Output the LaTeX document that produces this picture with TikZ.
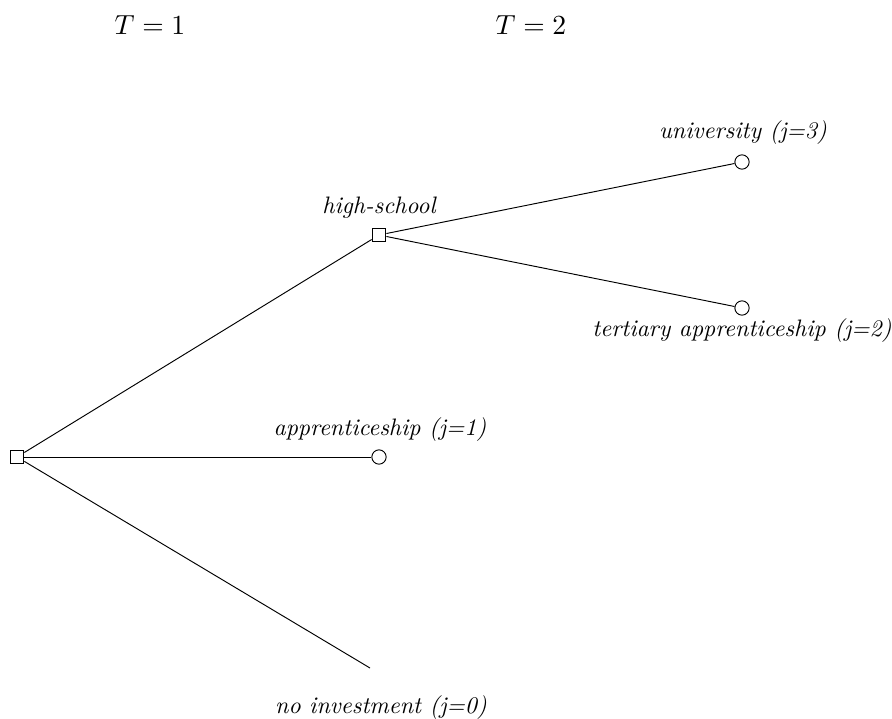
\documentclass[tikz,border=0pt]{standalone}
\begin{document}
\begin{tikzpicture}[x=0.42pt,y=-0.42pt,
  sq/.style={draw,rectangle,minimum size=5.8pt,inner sep=0pt,fill=white},
  circ/.style={draw,circle,minimum size=6pt,inner sep=0pt,fill=white},
  lab/.style={font=\itshape},
  tlab/.style={scale=1.16}]
\useasboundingbox (0,0) rectangle (892,719);
\node[sq] (root) at (17,457) {};
\node[sq] (hs) at (379,235) {};
\node[circ] (app) at (379,457) {};
\node[circ] (uni) at (742,162) {};
\node[circ] (ter) at (742,308) {};
\coordinate (noinv) at (370,668);
\draw (root) -- (hs);
\draw (root) -- (app);
\draw (root) -- (noinv);
\draw (hs) -- (uni);
\draw (hs) -- (ter);
\node[lab] (lhs) at (379,208) {high-school};
\node[lab] (luni) at (743,133) {university (j=3)};
\node[lab] (lter) at (742,331) {tertiary apprenticeship (j=2)};
\node[lab] (lapp) at (380,430) {apprenticeship (j=1)};
\node[lab] (lno) at (381,708) {no investment (j=0)};
\node[tlab] (t1) at (150,25) {$T=1$};
\node[tlab] (t2) at (531,25) {$T=2$};
\end{tikzpicture}
\end{document}
